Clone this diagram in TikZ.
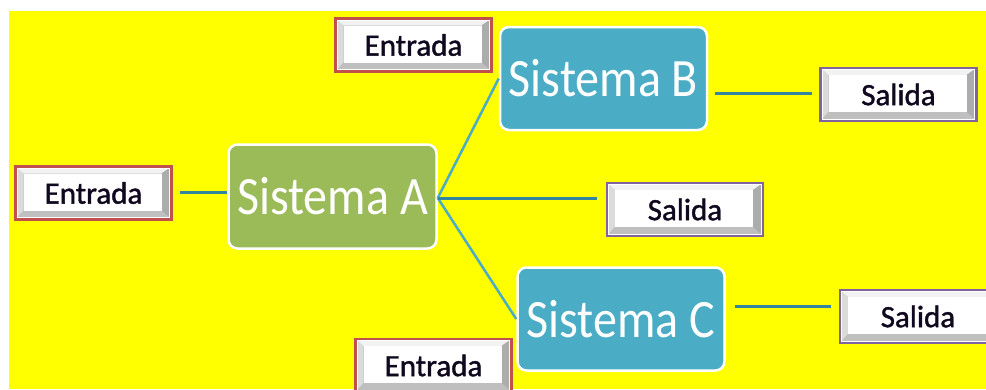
\documentclass[tikz,border=0pt]{standalone}
\usepackage{fontspec}
\setmainfont{Carlito}
\newfontfamily\sysfont[FakeStretch=0.89]{Carlito}
\newfontfamily\btnfont[FakeBold=1.3]{Carlito}
\definecolor{bgyellow}{HTML}{FFFF00}
\definecolor{sysgreen}{HTML}{9BBB59}
\definecolor{sysblue}{HTML}{4BACC6}
\definecolor{lineteal}{HTML}{31859C}
\definecolor{entred}{HTML}{C0504D}
\definecolor{salpurple}{HTML}{8064A2}
\definecolor{txtdark}{HTML}{10081E}
\tikzset{
  sysbox/.style={draw=white, line width=2.5pt, rounded corners=9pt, text=white,
    minimum width=207pt, minimum height=103pt, inner sep=0pt,
    font=\sysfont\fontsize{54}{60}\selectfont},
  btn/.style={line width=2.2pt, fill=gray!55, minimum width=156pt, minimum height=53pt,
    inner sep=0pt, text=txtdark, font=\btnfont\fontsize{31}{36}\selectfont,
    path picture={
      \coordinate (nw) at (path picture bounding box.north west);
      \coordinate (ne) at (path picture bounding box.north east);
      \coordinate (sw) at (path picture bounding box.south west);
      \coordinate (se) at (path picture bounding box.south east);
      \coordinate (inw) at ([xshift=8pt,yshift=-7pt]nw);
      \coordinate (ine) at ([xshift=-10pt,yshift=-7pt]ne);
      \coordinate (isw) at ([xshift=8pt,yshift=9pt]sw);
      \coordinate (ise) at ([xshift=-10pt,yshift=9pt]se);
      \fill[gray!10] (nw) -- (ne) -- (ine) -- (inw) -- cycle;
      \fill[gray!28] (nw) -- (inw) -- (isw) -- (sw) -- cycle;
      \fill[gray!65] (ne) -- (se) -- (ise) -- (ine) -- cycle;
      \fill[gray!50] (sw) -- (isw) -- (ise) -- (se) -- cycle;
      \fill[white] (inw) rectangle (ise);
      \draw[white, line width=1pt] ([xshift=1.8pt,yshift=-1.8pt]nw) rectangle ([xshift=-1.8pt,yshift=1.8pt]se);
    }},
  entbtn/.style={btn, draw=entred},
  salbtn/.style={btn, draw=salpurple},
  darkline/.style={draw=lineteal, line width=3pt},
  lightline/.style={draw=sysblue, line width=2.5pt}
}
\begin{document}
\begin{tikzpicture}[x=1pt,y=-1pt]
\useasboundingbox (0,0) rectangle (986,389);
\fill[white] (0,0) rectangle (986,389);
\fill[bgyellow] (9,11) rectangle (986,389);
% systems
\node[sysbox, fill=sysgreen, minimum width=208pt, minimum height=104pt] (sa) at (332.5,196.5) {Sistema A};
\node[sysbox, fill=sysblue] (sb) at (603.5,78.5) {Sistema B};
\node[sysbox, fill=sysblue] (sc) at (621,319) {Sistema C};
% inputs
\node[entbtn] (ea) at (93.5,193) {Entrada};
\node[entbtn] (eb) at (413.5,45) {Entrada};
\node[entbtn] (ec) at (433.5,365.5) {Entrada};
% outputs
\node[salbtn] (ob) at (898.5,94.5) {Salida};
\node[salbtn] (om) at (685,209.5) {Salida};
\node[salbtn] (oc) at (918,316.5) {Salida};
% connectors
\coordinate (hub) at ([yshift=-1.5pt]sa.east);
\draw[darkline] ([xshift=7pt]ea.east |- 0,192) -- (sa.west |- 0,192);
\draw[lightline] (hub) -- (sb.west);
\draw[lightline] (hub) -- (sc.west);
\draw[darkline] (hub) -- ([xshift=-9pt]om.west |- hub);
\draw[darkline] ([xshift=7pt]sb.east |- 0,93) -- ([xshift=-7pt]ob.west |- 0,93);
\draw[darkline] ([xshift=9pt]sc.east |- 0,306) -- ([xshift=-8pt]oc.west |- 0,306);
\end{tikzpicture}
\end{document}
